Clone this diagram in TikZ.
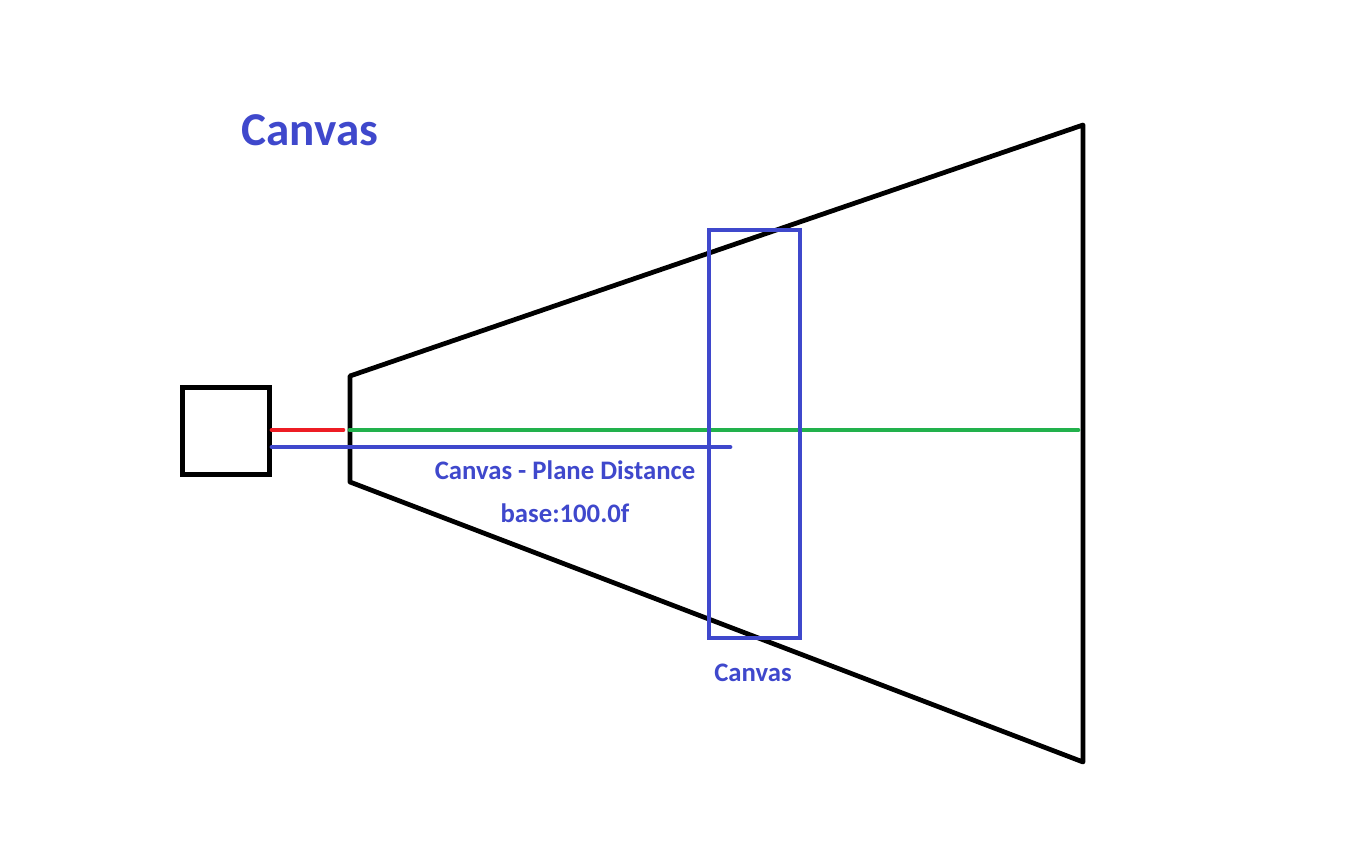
\documentclass[tikz,border=0pt]{standalone}
\usepackage{fontspec}
\setmainfont{Carlito}
\definecolor{paintblue}{RGB}{63,72,204}
\definecolor{paintred}{RGB}{237,28,36}
\definecolor{paintgreen}{RGB}{34,177,76}
\begin{document}
\begin{tikzpicture}[x=0.01cm,y=-0.01cm,
    edge/.style={line width=1.35pt,line cap=round,line join=round},
    lbl/.style={text=paintblue,font=\bfseries\fontsize{7.6}{9}\selectfont,inner sep=0pt}]
\useasboundingbox (0,0) rectangle (1366,864);
\node[text=paintblue,font=\bfseries\fontsize{13.4}{16}\selectfont,inner sep=0pt] (title) at (310,130) {Canvas};
\node[draw,line width=1.4pt,minimum size=0.87cm,inner sep=0pt] (cam) at (226,431) {};
\coordinate (nt) at (350,376);
\coordinate (nb) at (350,482);
\coordinate (nc) at (350,430);
\coordinate (ft) at (1083,125);
\coordinate (fb) at (1083,762);
\coordinate (fc) at (1078,430);
\coordinate (bend) at (730,447);
\draw[edge] (nb) -- (nt) -- (ft) -- (fb) -- (nb);
\draw[edge,paintred] (cam.east |- nc) -- ([xshift=-2]nc);
\draw[edge,paintgreen] (nc) -- (fc);
\draw[edge,paintblue] (cam.east |- bend) -- (bend);
\draw[edge,paintblue,line cap=butt,line join=miter] (709,230) rectangle (800,638);
\node[lbl] (dist) at (565,470) {Canvas - Plane Distance};
\node[lbl] (base) at (565,513) {base:100.0f};
\node[lbl] (cvs) at (753,673) {Canvas};
\end{tikzpicture}
\end{document}
